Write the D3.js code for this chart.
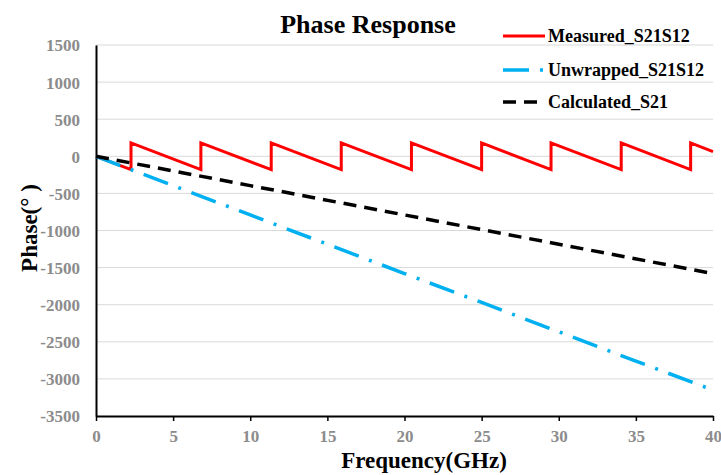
<!DOCTYPE html>
<html>
<head>
<meta charset="utf-8">
<script src="https://cdn.jsdelivr.net/npm/d3@7"></script>
<style>
  body { margin: 0; background: #fff; }
  svg text { font-family: "Liberation Serif", "Times New Roman", serif; font-weight: bold; }
</style>
</head>
<body>
<div id="chart"></div>
<script>
// x ticks and y ticks
const xTicks = [0, 5, 10, 15, 20, 25, 30, 35, 40];
const yTicks = [1500, 1000, 500, 0, -500, -1000, -1500, -2000, -2500, -3000, -3500];

// Measured_S21S12 (wrapped phase, read at each jump)
const measuredFreq  = [0, 2.27, 2.27, 6.8, 6.8, 11.36, 11.36, 15.9, 15.9, 20.45, 20.45, 25.0, 25.0, 29.5, 29.5, 34.05, 34.05, 38.55, 38.55, 40];
const measuredPhase = [0, -180, 180, -180, 180, -180, 180, -180, 180, -180, 180, -180, 180, -180, 180, -180, 180, -180, 180, 62];

// Unwrapped_S21S12
const unwrapFreq  = [0, 5, 10, 15, 20, 25, 30, 35, 40];
const unwrapPhase = [0, -395, -790, -1185, -1580, -1970, -2365, -2760, -3150];

// Calculated_S21
const calcFreq  = [0, 10, 20, 30, 40];
const calcPhase = [0, -395, -790, -1185, -1580];

const W = 721, H = 475;
const margin = { top: 45, right: 8, bottom: 59, left: 96 };
const width = W - margin.left - margin.right;
const height = H - margin.top - margin.bottom;

const svg = d3.select('#chart').append('svg')
    .attr('width', W)
    .attr('height', H);

const g = svg.append('g')
    .attr('transform', 'translate(' + margin.left + ',' + margin.top + ')');

const x = d3.scaleLinear().domain([0, 40]).range([0, width]);
const y = d3.scaleLinear().domain([-3500, 1500]).range([height, 0]);

// gridlines
g.selectAll('.grid')
    .data(yTicks.filter(function(d) { return d !== -3500; }))
    .enter()
    .append('line')
    .attr('x1', 0)
    .attr('x2', width)
    .attr('y1', function(d) { return y(d); })
    .attr('y2', function(d) { return y(d); })
    .attr('stroke', '#d9d9d9')
    .attr('stroke-width', 1);

// x axis
const xAxis = g.append('g')
    .attr('transform', 'translate(0,' + height + ')')
    .call(d3.axisBottom(x).tickValues(xTicks).tickSize(5).tickSizeOuter(0)
        .tickFormat(function(d) { return String(d); }));
xAxis.select('.domain').attr('stroke', '#000').attr('stroke-width', 2);
xAxis.selectAll('.tick line').attr('stroke', '#000').attr('stroke-width', 1.5);
xAxis.selectAll('text')
    .attr('dy', '1.05em')
    .style('font-size', '17px')
    .style('font-family', '"Liberation Serif", serif')
    .style('font-weight', 'bold')
    .attr('fill', '#8c8c8c');

// y axis
const yAxis = g.append('g')
    .call(d3.axisLeft(y).tickValues(yTicks).tickSize(0).tickPadding(16)
        .tickFormat(function(d) { return String(d); }));
yAxis.select('.domain').attr('stroke', '#000').attr('stroke-width', 2);
yAxis.selectAll('text')
    .attr('dy', '0.35em')
    .style('font-size', '17px')
    .style('font-family', '"Liberation Serif", serif')
    .style('font-weight', 'bold')
    .attr('fill', '#8c8c8c');

const line = d3.line()
    .x(function(d) { return x(d[0]); })
    .y(function(d) { return y(d[1]); });

const series = [
    { label: 'Measured_S21S12', f: measuredFreq, p: measuredPhase, color: '#ff0000', dash: null, w: 3 },
    { label: 'Unwrapped_S21S12', f: unwrapFreq, p: unwrapPhase, color: '#00b0f0', dash: '26,11,3,11', w: 3.5 },
    { label: 'Calculated_S21', f: calcFreq, p: calcPhase, color: '#000000', dash: '13,8', w: 3.5 }
];

series.forEach(function(s) {
    const data = s.f.map(function(f, i) { return [f, s.p[i]]; });
    g.append('path')
        .datum(data)
        .attr('fill', 'none')
        .attr('stroke', s.color)
        .attr('stroke-width', s.w)
        .attr('stroke-dasharray', s.dash)
        .attr('stroke-linejoin', 'miter')
        .attr('d', line);
});

// legend
const legendY = [36, 70, 102];
series.forEach(function(s, i) {
    svg.append('line')
        .attr('x1', 503)
        .attr('x2', 545)
        .attr('y1', legendY[i])
        .attr('y2', legendY[i])
        .attr('stroke', s.color)
        .attr('stroke-width', s.w)
        .attr('stroke-dasharray', s.dash);
    svg.append('text')
        .attr('x', 548)
        .attr('y', legendY[i] + 6)
        .style('font-size', '18px')
        .attr('fill', '#000')
        .text(s.label);
});

// title
svg.append('text')
    .attr('x', 368)
    .attr('y', 33)
    .attr('text-anchor', 'middle')
    .style('font-size', '26px')
    .attr('fill', '#000')
    .text('Phase Response');

// axis titles
svg.append('text')
    .attr('x', 424)
    .attr('y', 468)
    .attr('text-anchor', 'middle')
    .style('font-size', '23px')
    .attr('fill', '#000')
    .text('Frequency(GHz)');

svg.append('text')
    .attr('transform', 'translate(37,228) rotate(-90)')
    .attr('text-anchor', 'middle')
    .style('font-size', '23px')
    .attr('fill', '#000')
    .text('Phase(° )');
</script>
</body>
</html>
